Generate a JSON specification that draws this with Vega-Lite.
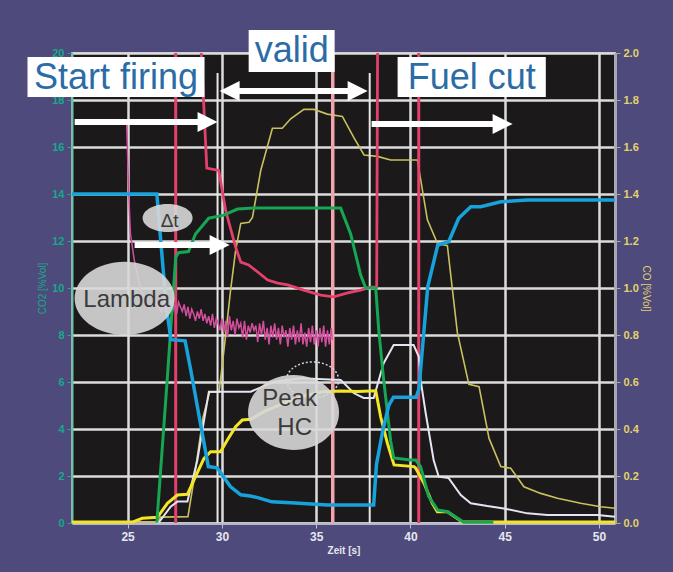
{
  "$schema": "https://vega.github.io/schema/vega-lite/v6.json",
  "width": 543,
  "height": 470,
  "autosize": "none",
  "padding": {"left": 72, "top": 53, "right": 58, "bottom": 49},
  "background": "#4e4a7c",
  "config": {
    "view": {"fill": "#1b1919", "stroke": "#a8a8b8", "strokeWidth": 2},
    "font": "Liberation Sans",
    "axis": {"labelFont": "Liberation Sans", "titleFont": "Liberation Sans"},
    "axisX": {"grid": true, "gridColor": "#dcdcdc", "gridWidth": 2.5,
      "titleColor": "#e6e6ee", "titleFontSize": 10, "titleFontWeight": "bold", "titlePadding": 3,
      "labelColor": "#e6e6ee", "labelFontSize": 12, "labelFontWeight": "bold", "labelPadding": 3,
      "tickColor": "#c0c0d0", "tickSize": 5, "domainColor": "#b8b8c8", "domainWidth": 2}
  },
  "datasets": {
    "olive": [
      {"t": 22.05, "co": 0.005}, {"t": 26.6, "co": 0.005}, {"t": 26.75, "co": 0.025}, {"t": 28.2, "co": 0.027},
      {"t": 28.55, "co": 0.2}, {"t": 29.0, "co": 0.45}, {"t": 29.35, "co": 0.557}, {"t": 29.85, "co": 0.557},
      {"t": 30.11, "co": 0.736}, {"t": 30.46, "co": 0.99}, {"t": 30.73, "co": 1.16}, {"t": 31.0, "co": 1.275},
      {"t": 31.44, "co": 1.28}, {"t": 31.62, "co": 1.3}, {"t": 32.06, "co": 1.5}, {"t": 32.68, "co": 1.68},
      {"t": 33.2, "co": 1.68}, {"t": 33.65, "co": 1.72}, {"t": 34.35, "co": 1.76}, {"t": 34.88, "co": 1.76},
      {"t": 35.59, "co": 1.74}, {"t": 36.39, "co": 1.73}, {"t": 37.0, "co": 1.64}, {"t": 37.54, "co": 1.566},
      {"t": 38.25, "co": 1.56}, {"t": 38.95, "co": 1.545}, {"t": 40.37, "co": 1.545}, {"t": 40.9, "co": 1.29},
      {"t": 41.43, "co": 1.19}, {"t": 41.96, "co": 1.18}, {"t": 42.49, "co": 0.81}, {"t": 43.1, "co": 0.59},
      {"t": 43.64, "co": 0.58}, {"t": 44.17, "co": 0.36}, {"t": 44.79, "co": 0.24}, {"t": 45.32, "co": 0.233},
      {"t": 46.02, "co": 0.154}, {"t": 46.91, "co": 0.126}, {"t": 47.8, "co": 0.105}, {"t": 49.03, "co": 0.084},
      {"t": 50.09, "co": 0.069}, {"t": 50.85, "co": 0.063}
    ],
    "blue": [
      {"t": 22.05, "v": 14.0}, {"t": 26.55, "v": 14.0}, {"t": 26.8, "v": 11.6}, {"t": 27.05, "v": 9.2},
      {"t": 27.3, "v": 7.8}, {"t": 28.05, "v": 7.75}, {"t": 28.35, "v": 6.5}, {"t": 29.28, "v": 2.4},
      {"t": 29.75, "v": 2.35}, {"t": 30.45, "v": 1.55}, {"t": 31.0, "v": 1.2}, {"t": 31.5, "v": 1.15},
      {"t": 31.9, "v": 1.08}, {"t": 32.65, "v": 0.9}, {"t": 33.9, "v": 0.85}, {"t": 35.6, "v": 0.77},
      {"t": 38.05, "v": 0.77}, {"t": 38.2, "v": 2.5}, {"t": 38.55, "v": 4.0}, {"t": 38.85, "v": 5.0},
      {"t": 39.1, "v": 5.35}, {"t": 40.3, "v": 5.35}, {"t": 40.45, "v": 5.7}, {"t": 40.92, "v": 10.06},
      {"t": 41.45, "v": 11.83}, {"t": 42.03, "v": 11.97}, {"t": 42.56, "v": 12.97}, {"t": 43.2, "v": 13.46},
      {"t": 43.73, "v": 13.46}, {"t": 44.79, "v": 13.67}, {"t": 46.2, "v": 13.74}, {"t": 50.85, "v": 13.74}
    ],
    "green": [
      {"t": 26.55, "v": 0.02}, {"t": 27.1, "v": 6.1}, {"t": 27.55, "v": 11.3}, {"t": 27.7, "v": 11.5},
      {"t": 28.23, "v": 11.55}, {"t": 28.6, "v": 12.3}, {"t": 29.3, "v": 12.97}, {"t": 30.1, "v": 13.1},
      {"t": 30.83, "v": 13.36}, {"t": 31.68, "v": 13.4}, {"t": 36.3, "v": 13.4}, {"t": 36.83, "v": 12.3},
      {"t": 37.36, "v": 10.55}, {"t": 37.63, "v": 10.0}, {"t": 38.16, "v": 10.0}, {"t": 38.32, "v": 8.2},
      {"t": 38.58, "v": 6.1}, {"t": 38.95, "v": 3.5}, {"t": 39.11, "v": 2.77}, {"t": 40.01, "v": 2.68},
      {"t": 40.28, "v": 2.68}, {"t": 40.54, "v": 2.4}, {"t": 40.97, "v": 1.12}, {"t": 41.45, "v": 0.55},
      {"t": 41.98, "v": 0.48}, {"t": 42.83, "v": 0.03}, {"t": 44.4, "v": 0.03}
    ],
    "yellow": [
      {"t": 22.05, "v": 0.04}, {"t": 25.25, "v": 0.04}, {"t": 25.78, "v": 0.2}, {"t": 26.58, "v": 0.24},
      {"t": 27.11, "v": 0.84}, {"t": 27.64, "v": 1.19}, {"t": 28.17, "v": 1.22}, {"t": 28.52, "v": 1.83},
      {"t": 29.05, "v": 2.75}, {"t": 29.4, "v": 3.03}, {"t": 29.93, "v": 3.03}, {"t": 30.29, "v": 3.53},
      {"t": 30.73, "v": 4.1}, {"t": 31.08, "v": 4.38}, {"t": 31.53, "v": 4.41}, {"t": 32.23, "v": 4.74},
      {"t": 32.94, "v": 4.98}, {"t": 33.65, "v": 5.23}, {"t": 34.53, "v": 5.45}, {"t": 35.41, "v": 5.59},
      {"t": 36.3, "v": 5.62}, {"t": 37.19, "v": 5.6}, {"t": 38.16, "v": 5.63}, {"t": 38.42, "v": 4.52},
      {"t": 38.78, "v": 3.39}, {"t": 39.13, "v": 2.47}, {"t": 40.19, "v": 2.4}, {"t": 40.28, "v": 2.33},
      {"t": 40.72, "v": 1.69}, {"t": 41.16, "v": 0.84}, {"t": 41.43, "v": 0.48}, {"t": 41.96, "v": 0.48},
      {"t": 42.76, "v": 0.04}, {"t": 50.85, "v": 0.04}
    ],
    "white": [
      {"t": 26.5, "v": 0.03}, {"t": 26.66, "v": 0.03}, {"t": 27.28, "v": 0.69}, {"t": 27.64, "v": 0.91},
      {"t": 28.17, "v": 0.91}, {"t": 28.7, "v": 2.68}, {"t": 29.31, "v": 5.59}, {"t": 31.53, "v": 5.59},
      {"t": 32.75, "v": 6.0}, {"t": 34.18, "v": 6.16}, {"t": 36.3, "v": 6.09}, {"t": 36.99, "v": 5.53},
      {"t": 37.52, "v": 5.32}, {"t": 38.05, "v": 5.32}, {"t": 38.58, "v": 6.8}, {"t": 39.11, "v": 7.57},
      {"t": 40.17, "v": 7.57}, {"t": 40.44, "v": 7.08}, {"t": 40.54, "v": 6.09}, {"t": 40.81, "v": 4.67},
      {"t": 41.23, "v": 2.68}, {"t": 41.5, "v": 1.97}, {"t": 42.03, "v": 1.91}, {"t": 42.67, "v": 1.19},
      {"t": 43.2, "v": 0.84}, {"t": 44.08, "v": 0.72}, {"t": 44.95, "v": 0.62}, {"t": 46.2, "v": 0.41},
      {"t": 47.27, "v": 0.34}, {"t": 49.92, "v": 0.34}, {"t": 50.85, "v": 0.27}
    ],
    "lambda": [
      {"t": 28.87, "v": 20.6}, {"t": 29.2, "v": 15.1}, {"t": 29.83, "v": 15.0}, {"t": 30.2, "v": 13.3},
      {"t": 30.3, "v": 13.0}, {"t": 30.73, "v": 11.74}, {"t": 31.0, "v": 11.1}, {"t": 31.42, "v": 10.98},
      {"t": 31.9, "v": 10.68}, {"t": 32.43, "v": 10.34}, {"t": 32.96, "v": 10.21}, {"t": 33.49, "v": 10.13},
      {"t": 34.34, "v": 9.91}, {"t": 35.24, "v": 9.7}, {"t": 35.93, "v": 9.62}, {"t": 36.67, "v": 9.79},
      {"t": 37.36, "v": 9.91}, {"t": 37.89, "v": 10.04}, {"t": 38.21, "v": 10.04}, {"t": 38.26, "v": 20.6}
    ],
    "pink": [
      {"t": 24.95, "v": 17.0}, {"t": 25.05, "v": 14.2}, {"t": 25.15, "v": 12.3}, {"t": 25.35, "v": 11.2},
      {"t": 25.7, "v": 9.9}, {"t": 26.15, "v": 9.2}, {"t": 26.5, "v": 9.35}, {"t": 26.8, "v": 9.0},
      {"t": 26.9, "v": 9.3}, {"t": 27.0, "v": 9.0}, {"t": 27.1, "v": 9.4}, {"t": 27.2, "v": 9.1},
      {"t": 27.3, "v": 9.5}, {"t": 27.4, "v": 9.0}, {"t": 27.5, "v": 9.3}, {"t": 27.6, "v": 8.9},
      {"t": 27.7, "v": 9.4}, {"t": 27.8, "v": 9.2}, {"t": 27.9, "v": 9.0}, {"t": 28.0, "v": 9.3},
      {"t": 28.1, "v": 8.8}, {"t": 28.2, "v": 9.2}, {"t": 28.3, "v": 8.7}, {"t": 28.4, "v": 9.1},
      {"t": 28.5, "v": 8.9}, {"t": 28.6, "v": 8.6}, {"t": 28.7, "v": 9.0}, {"t": 28.8, "v": 8.7},
      {"t": 28.9, "v": 9.1}, {"t": 29.0, "v": 8.6}, {"t": 29.1, "v": 8.9}, {"t": 29.2, "v": 8.5},
      {"t": 29.3, "v": 8.8}, {"t": 29.4, "v": 8.4}, {"t": 29.5, "v": 8.9}, {"t": 29.6, "v": 8.3},
      {"t": 29.7, "v": 8.7}, {"t": 29.8, "v": 8.5}, {"t": 29.9, "v": 8.2}, {"t": 30.0, "v": 8.7},
      {"t": 30.1, "v": 8.1}, {"t": 30.2, "v": 8.6}, {"t": 30.3, "v": 7.9}, {"t": 30.4, "v": 8.8},
      {"t": 30.5, "v": 8.2}, {"t": 30.6, "v": 8.6}, {"t": 30.7, "v": 8.0}, {"t": 30.8, "v": 8.7},
      {"t": 30.9, "v": 8.3}, {"t": 31.0, "v": 8.5}, {"t": 31.1, "v": 7.9}, {"t": 31.2, "v": 8.6},
      {"t": 31.3, "v": 7.8}, {"t": 31.4, "v": 8.4}, {"t": 31.5, "v": 8.1}, {"t": 31.6, "v": 8.5},
      {"t": 31.7, "v": 8.2}, {"t": 31.8, "v": 8.4}, {"t": 31.9, "v": 7.7}, {"t": 32.0, "v": 8.5},
      {"t": 32.1, "v": 8.0}, {"t": 32.2, "v": 8.6}, {"t": 32.3, "v": 7.8}, {"t": 32.4, "v": 8.3},
      {"t": 32.5, "v": 7.6}, {"t": 32.6, "v": 8.4}, {"t": 32.7, "v": 7.9}, {"t": 32.8, "v": 8.5},
      {"t": 32.9, "v": 7.8}, {"t": 33.0, "v": 8.3}, {"t": 33.1, "v": 7.6}, {"t": 33.2, "v": 8.4},
      {"t": 33.3, "v": 7.9}, {"t": 33.4, "v": 8.2}, {"t": 33.5, "v": 7.5}, {"t": 33.6, "v": 8.3},
      {"t": 33.7, "v": 7.8}, {"t": 33.8, "v": 8.4}, {"t": 33.9, "v": 7.6}, {"t": 34.0, "v": 8.2},
      {"t": 34.1, "v": 7.7}, {"t": 34.2, "v": 8.5}, {"t": 34.3, "v": 7.6}, {"t": 34.4, "v": 8.1},
      {"t": 34.5, "v": 7.5}, {"t": 34.6, "v": 8.3}, {"t": 34.7, "v": 7.7}, {"t": 34.8, "v": 8.4},
      {"t": 34.9, "v": 7.6}, {"t": 35.0, "v": 8.2}, {"t": 35.1, "v": 7.5}, {"t": 35.2, "v": 8.3},
      {"t": 35.3, "v": 7.7}, {"t": 35.4, "v": 8.4}, {"t": 35.5, "v": 7.5}, {"t": 35.6, "v": 8.2},
      {"t": 35.7, "v": 7.6}, {"t": 35.8, "v": 8.3}, {"t": 35.85, "v": 7.8}
    ],
    "redRules": [{"t": 27.55}, {"t": 40.44}],
    "pinkRules": [{"t": 35.88}],
    "validRules": [{"t": 29.77, "top": 19.15, "bottom": 0}, {"t": 37.84, "top": 19.15, "bottom": 0}],
    "dotted": [{"t": 34.81, "v": 6.09}],
    "ellLambda": [{"t": 24.84, "v": 9.56}],
    "ellDt": [{"t": 27.12, "v": 12.98}],
    "ellPeak": [{"t": 33.8, "v": 4.7}],
    "ellText": [
      {"label": "Lambda", "t": 24.95, "v": 9.19},
      {"label": "Peak", "t": 33.59, "v": 4.98},
      {"label": "HC", "t": 33.86, "v": 3.74}
    ],
    "dtText": [{"label": "Δt", "t": 27.23, "v": 12.61}],
    "shafts": [
      {"t1": 22.19, "t2": 28.9, "v": 17.06},
      {"t1": 30.3, "t2": 37.3, "v": 18.38},
      {"t1": 37.94, "t2": 44.9, "v": 16.98},
      {"t1": 25.37, "t2": 29.9, "v": 11.83}
    ],
    "heads": [
      {"t": 29.24, "v": 17.06, "dir": "right"},
      {"t": 30.41, "v": 18.38, "dir": "left"},
      {"t": 37.2, "v": 18.38, "dir": "right"},
      {"t": 44.89, "v": 16.98, "dir": "right"},
      {"t": 29.88, "v": 11.83, "dir": "right"}
    ],
    "boxes": [
      {"t1": 19.69, "t2": 29.08, "v1": 18.13, "v2": 19.83},
      {"t1": 31.42, "t2": 35.98, "v1": 19.19, "v2": 20.98},
      {"t1": 39.32, "t2": 47.18, "v1": 18.13, "v2": 19.83}
    ],
    "boxText": [
      {"label": "Start firing", "t": 24.39, "v": 18.47},
      {"label": "valid", "t": 33.7, "v": 19.62},
      {"label": "Fuel cut", "t": 43.25, "v": 18.47}
    ]
  },
  "resolve": {"scale": {"y": "independent"}},
  "layer": [
    {
      "data": {"name": "olive"},
      "mark": {"type": "line", "color": "#c9c060", "strokeWidth": 1.6},
      "encoding": {
        "x": {"field": "t", "type": "quantitative", "title": "Zeit [s]", "scale": {"domain": [22.05, 50.85], "nice": false, "zero": false},
          "axis": {"values": [25, 30, 35, 40, 45, 50]}},
        "y": {
          "field": "co", "type": "quantitative",
          "scale": {"domain": [0, 2], "nice": false},
          "axis": {
            "orient": "right", "values": [0, 0.2, 0.4, 0.6, 0.8, 1.0, 1.2, 1.4, 1.6, 1.8, 2.0], "format": ".1f",
            "grid": false, "title": "CO [%Vol]", "titleColor": "#e3d36c", "titleFontSize": 10, "titleFontWeight": "normal",
            "titlePadding": 2, "labelColor": "#e3d36c", "labelFontSize": 11, "labelFontWeight": "bold",
            "tickColor": "#b8b070", "tickSize": 5, "labelPadding": 3, "domainColor": "#a8a8b4", "domainWidth": 3
          }
        }
      }
    },
    {
      "data": {"name": "blue"},
      "mark": {"type": "line", "opacity": 0, "strokeWidth": 0},
      "encoding": {
        "x": {"field": "t", "type": "quantitative", "title": "Zeit [s]"},
        "y": {"field": "v", "type": "quantitative", "scale": {"domain": [0, 20], "nice": false},
          "axis": {"orient": "left", "values": [0, 2, 4, 6, 8, 10, 12, 14, 16, 18, 20], "grid": true,
            "gridColor": "#dcdcdc", "gridWidth": 2.5, "title": "CO2 [%Vol]", "titleColor": "#18a88a",
            "titleFontSize": 10, "titleFontWeight": "normal", "titlePadding": 4,
            "labelColor": "#18a88a", "labelFontSize": 11, "labelFontWeight": "bold", "labelPadding": 3,
            "tickColor": "#18a88a", "tickSize": 5, "domainColor": "#6cc4a4", "domainWidth": 2}}
      }
    },
    {
      "data": {"name": "redRules"},
      "mark": {"type": "rule", "color": "#e4406c", "strokeWidth": 3},
      "encoding": {"x": {"field": "t", "type": "quantitative", "title": "Zeit [s]"}}
    },
    {
      "data": {"name": "pinkRules"},
      "mark": {"type": "rule", "color": "#f2a4ac", "strokeWidth": 3.5},
      "encoding": {"x": {"field": "t", "type": "quantitative", "title": "Zeit [s]"}}
    },
    {
      "data": {"name": "validRules"},
      "mark": {"type": "rule", "color": "#e8e8e8", "strokeWidth": 2},
      "encoding": {
        "x": {"field": "t", "type": "quantitative", "title": "Zeit [s]"},
        "y": {"field": "top", "type": "quantitative", "scale": {"domain": [0, 20], "nice": false}, "axis": null},
        "y2": {"field": "bottom"}
      }
    },
    {
      "data": {"name": "pink"},
      "mark": {"type": "line", "color": "#d24e9c", "strokeWidth": 1.5, "clip": true},
      "encoding": {
        "x": {"field": "t", "type": "quantitative", "title": "Zeit [s]"},
        "y": {"field": "v", "type": "quantitative", "scale": {"domain": [0, 20], "nice": false}, "axis": null}
      }
    },
    {
      "data": {"name": "lambda"},
      "mark": {"type": "line", "color": "#e4406c", "strokeWidth": 2.8, "clip": true},
      "encoding": {
        "x": {"field": "t", "type": "quantitative", "title": "Zeit [s]"},
        "y": {"field": "v", "type": "quantitative", "scale": {"domain": [0, 20], "nice": false}, "axis": null}
      }
    },
    {
      "data": {"name": "white"},
      "mark": {"type": "line", "color": "#e4e4f2", "strokeWidth": 2},
      "encoding": {
        "x": {"field": "t", "type": "quantitative", "title": "Zeit [s]"},
        "y": {"field": "v", "type": "quantitative", "scale": {"domain": [0, 20], "nice": false}, "axis": null}
      }
    },
    {
      "data": {"name": "yellow"},
      "mark": {"type": "line", "color": "#f4e526", "strokeWidth": 3},
      "encoding": {
        "x": {"field": "t", "type": "quantitative", "title": "Zeit [s]"},
        "y": {"field": "v", "type": "quantitative", "scale": {"domain": [0, 20], "nice": false}, "axis": null}
      }
    },
    {
      "data": {"name": "green"},
      "mark": {"type": "line", "color": "#17a653", "strokeWidth": 3},
      "encoding": {
        "x": {"field": "t", "type": "quantitative", "title": "Zeit [s]"},
        "y": {"field": "v", "type": "quantitative", "scale": {"domain": [0, 20], "nice": false}, "axis": null}
      }
    },
    {
      "data": {"name": "blue"},
      "mark": {"type": "line", "color": "#18a2dc", "strokeWidth": 3.5},
      "encoding": {
        "x": {"field": "t", "type": "quantitative", "title": "Zeit [s]"},
        "y": {"field": "v", "type": "quantitative", "scale": {"domain": [0, 20], "nice": false}, "axis": null}
      }
    },
    {
      "data": {"name": "dotted"},
      "mark": {"type": "point", "shape": "M-1,0A1,0.69 0 1,1 1,0A1,0.69 0 1,1 -1,0Z", "size": 2704,
        "filled": false, "stroke": "#c8d4e8", "strokeWidth": 1.5, "strokeDash": [2, 2], "opacity": 1},
      "encoding": {
        "x": {"field": "t", "type": "quantitative", "title": "Zeit [s]"},
        "y": {"field": "v", "type": "quantitative", "scale": {"domain": [0, 20], "nice": false}, "axis": null}
      }
    },
    {
      "data": {"name": "ellLambda"},
      "mark": {"type": "point", "shape": "M-1,0A1,0.734 0 1,1 1,0A1,0.734 0 1,1 -1,0Z", "size": 10000,
        "filled": true, "fill": "#d8d8d8", "fillOpacity": 0.9, "strokeWidth": 0},
      "encoding": {
        "x": {"field": "t", "type": "quantitative", "title": "Zeit [s]"},
        "y": {"field": "v", "type": "quantitative", "scale": {"domain": [0, 20], "nice": false}, "axis": null}
      }
    },
    {
      "data": {"name": "ellDt"},
      "mark": {"type": "point", "shape": "M-1,0A1,0.56 0 1,1 1,0A1,0.56 0 1,1 -1,0Z", "size": 2500,
        "filled": true, "fill": "#d8d8d8", "fillOpacity": 0.9, "strokeWidth": 0},
      "encoding": {
        "x": {"field": "t", "type": "quantitative", "title": "Zeit [s]"},
        "y": {"field": "v", "type": "quantitative", "scale": {"domain": [0, 20], "nice": false}, "axis": null}
      }
    },
    {
      "data": {"name": "ellPeak"},
      "mark": {"type": "point", "shape": "M-1,0A1,0.824 0 1,1 1,0A1,0.824 0 1,1 -1,0Z", "size": 8281,
        "filled": true, "fill": "#d8d8d8", "fillOpacity": 0.9, "strokeWidth": 0},
      "encoding": {
        "x": {"field": "t", "type": "quantitative", "title": "Zeit [s]"},
        "y": {"field": "v", "type": "quantitative", "scale": {"domain": [0, 20], "nice": false}, "axis": null}
      }
    },
    {
      "data": {"name": "ellText"},
      "mark": {"type": "text", "font": "Liberation Sans", "fontSize": 24, "color": "#3a3a3a", "baseline": "alphabetic", "align": "center"},
      "encoding": {
        "x": {"field": "t", "type": "quantitative", "title": "Zeit [s]"},
        "y": {"field": "v", "type": "quantitative", "scale": {"domain": [0, 20], "nice": false}, "axis": null},
        "text": {"field": "label"}
      }
    },
    {
      "data": {"name": "dtText"},
      "mark": {"type": "text", "font": "Liberation Sans", "fontSize": 19, "color": "#3a3a3a", "baseline": "alphabetic", "align": "center"},
      "encoding": {
        "x": {"field": "t", "type": "quantitative", "title": "Zeit [s]"},
        "y": {"field": "v", "type": "quantitative", "scale": {"domain": [0, 20], "nice": false}, "axis": null},
        "text": {"field": "label"}
      }
    },
    {
      "data": {"name": "shafts"},
      "mark": {"type": "rule", "color": "#ffffff", "strokeWidth": 6, "strokeCap": "butt"},
      "encoding": {
        "x": {"field": "t1", "type": "quantitative", "title": "Zeit [s]"},
        "x2": {"field": "t2"},
        "y": {"field": "v", "type": "quantitative", "scale": {"domain": [0, 20], "nice": false}, "axis": null}
      }
    },
    {
      "data": {"name": "heads"},
      "mark": {"type": "point", "size": 400, "filled": true, "color": "#ffffff", "opacity": 1, "strokeWidth": 0},
      "encoding": {
        "x": {"field": "t", "type": "quantitative", "title": "Zeit [s]"},
        "y": {"field": "v", "type": "quantitative", "scale": {"domain": [0, 20], "nice": false}, "axis": null},
        "shape": {"field": "dir", "type": "nominal", "legend": null,
          "scale": {"domain": ["right", "left"], "range": ["M-1,-1L1,0L-1,1Z", "M1,-1L-1,0L1,1Z"]}}
      }
    },
    {
      "data": {"name": "boxes"},
      "mark": {"type": "rect", "color": "#ffffff", "opacity": 1},
      "encoding": {
        "x": {"field": "t1", "type": "quantitative", "title": "Zeit [s]"},
        "x2": {"field": "t2"},
        "y": {"field": "v1", "type": "quantitative", "scale": {"domain": [0, 20], "nice": false}, "axis": null},
        "y2": {"field": "v2"}
      }
    },
    {
      "data": {"name": "boxText"},
      "mark": {"type": "text", "font": "Liberation Sans", "fontSize": 36, "color": "#2b6ca6", "baseline": "alphabetic", "align": "center"},
      "encoding": {
        "x": {"field": "t", "type": "quantitative", "title": "Zeit [s]"},
        "y": {"field": "v", "type": "quantitative", "scale": {"domain": [0, 20], "nice": false}, "axis": null},
        "text": {"field": "label"}
      }
    }
  ]
}
